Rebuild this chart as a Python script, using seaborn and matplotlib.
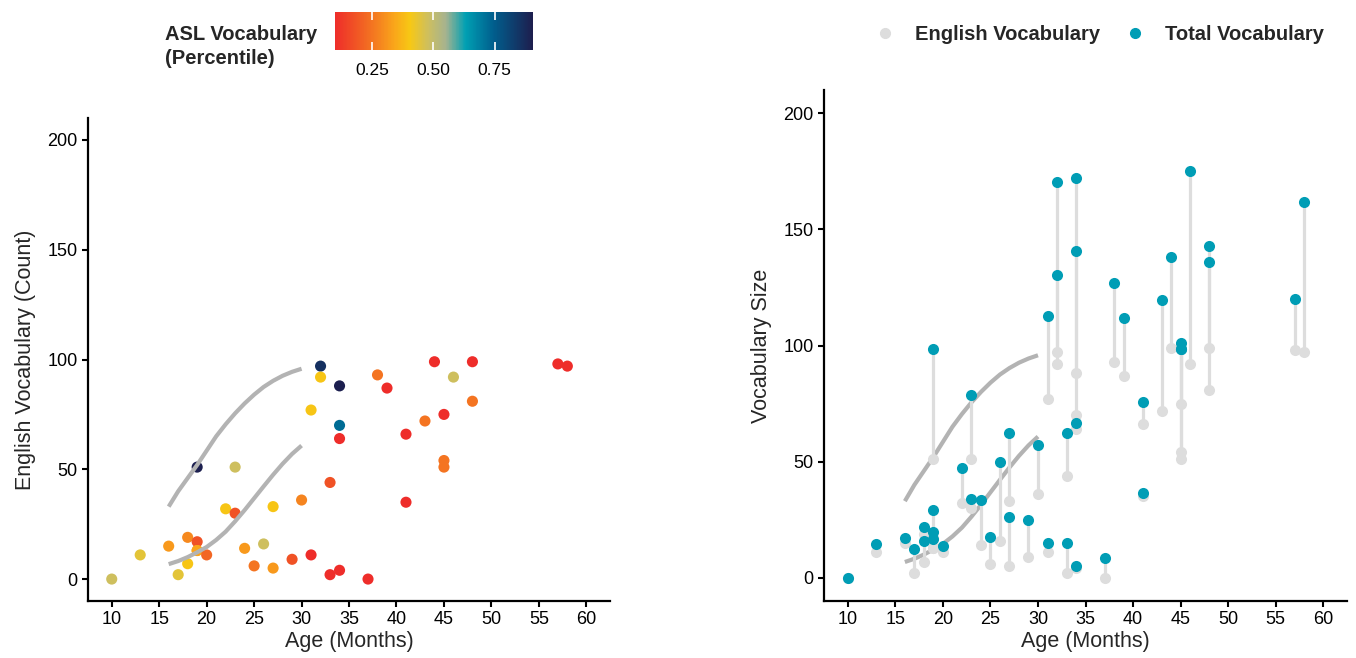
import numpy as np
import pandas as pd
import matplotlib
matplotlib.use("Agg")
import matplotlib.pyplot as plt
from matplotlib.colors import LinearSegmentedColormap, Normalize
from matplotlib.cm import ScalarMappable
from matplotlib.lines import Line2D
import seaborn as sns

# one entry per child
AGE = [10, 13, 16, 17, 18, 18, 19, 19, 19, 19, 20, 22, 23, 23, 24, 25, 26, 27, 27, 29,
       30, 31, 31, 32, 32, 33, 33, 34, 34, 34, 34, 37, 38, 39, 41, 41, 43, 44, 45, 45,
       45, 46, 48, 48, 57, 58]
ENGLISH = [0, 11, 15, 2, 19, 7, 51, 17, 13, 13, 11, 32, 51, 30, 14, 6, 16, 33, 5, 9,
           36, 77, 11, 97, 92, 44, 2, 88, 70, 64, 4, 0, 93, 87, 66, 35, 72, 99, 75, 54,
           51, 92, 99, 81, 98, 97]
TOTAL = [0, 14.4, 17.2, 12.4, 22, 15.9, 98.5, 29.4, 19.7, 16.9, 13.8, 47.2, 78.6, 33.8,
         33.4, 17.7, 49.7, 62.5, 26, 24.8, 57.3, 112.9, 14.8, 170.3, 130.3, 62.5, 15,
         172, 140.9, 66.5, 5.2, 8.5, 126.7, 112, 75.5, 36.7, 119.4, 138.3, 101.1, 98.3,
         98.5, 175.3, 142.9, 135.9, 119.9, 161.6]
ASL_PCT = [0.48, 0.44, 0.32, 0.44, 0.29, 0.40, 0.90, 0.18, 0.34, 0.34, 0.22, 0.40, 0.48,
           0.18, 0.32, 0.25, 0.48, 0.40, 0.32, 0.18, 0.28, 0.40, 0.10, 0.86, 0.40, 0.18,
           0.10, 0.90, 0.72, 0.10, 0.10, 0.10, 0.25, 0.10, 0.10, 0.10, 0.25, 0.10, 0.10,
           0.25, 0.25, 0.48, 0.10, 0.25, 0.10, 0.10]

# reference norm curves
CURVE_AGE = [16, 17, 18, 19, 20, 21, 22, 23, 24, 25, 26, 27, 28, 29, 30]
CURVE_UPPER = [33, 40, 46, 52, 58.5, 65, 70.5, 75.5, 80, 84, 87.5, 90.3, 92.6, 94.4, 95.8]
CURVE_LOWER = [6.8, 8.2, 10, 12.2, 14.6, 17.8, 21.6, 26.3, 31.4, 36.8, 42.2, 47.5, 52.5,
               57, 60.8]

ASL_COLORS = ["#EE2D2A", "#F15A24", "#F5821F", "#FAA61A", "#F7C815", "#CEBF5E",
              "#A6B38F", "#00A0B3", "#005F8E", "#1D1E4E"]
ASL_STOPS = [0.0, 0.12, 0.22, 0.30, 0.38, 0.47, 0.56, 0.66, 0.80, 1.0]

TEAL = "#009DB5"
LIGHT = "#DDDDDD"
CURVE = "#B3B3B3"

sns.set_theme(style="ticks")
plt.rcParams["font.family"] = ["Liberation Sans", "DejaVu Sans"]

df = pd.DataFrame({"age": AGE, "english": ENGLISH, "total": TOTAL, "asl": ASL_PCT})
curves = pd.DataFrame({"age": CURVE_AGE, "upper": CURVE_UPPER, "lower": CURVE_LOWER})

cmap = LinearSegmentedColormap.from_list("asl", list(zip(ASL_STOPS, ASL_COLORS)))
norm = Normalize(vmin=0.1, vmax=0.905)

fig = plt.figure(figsize=(13.56, 6.58), dpi=100)
ax1 = fig.add_axes([0.0649, 0.0866, 0.385, 0.734])
ax2 = fig.add_axes([0.6077, 0.0866, 0.3857, 0.7766])

# ── Left: English vocabulary coloured by ASL percentile ──
sns.scatterplot(data=df, x="age", y="english", hue="asl", palette=cmap, hue_norm=norm,
                s=64, linewidth=0, legend=False, ax=ax1, zorder=2)
for col in ["upper", "lower"]:
    sns.lineplot(data=curves, x="age", y=col, color=CURVE, lw=3, ax=ax1, zorder=3,
                 solid_joinstyle="round", solid_capstyle="butt")
ax1.set_ylabel("English Vocabulary (Count)", labelpad=8)

# ── Right: English vs total vocabulary ──
for col in ["upper", "lower"]:
    sns.lineplot(data=curves, x="age", y=col, color=CURVE, lw=3, ax=ax2, zorder=1,
                 solid_joinstyle="round", solid_capstyle="butt")
ax2.vlines(df["age"], df["english"], df["total"], color=LIGHT, lw=2.3, zorder=2)
sns.scatterplot(data=df, x="age", y="english", color=LIGHT, s=64, linewidth=0, ax=ax2, zorder=3)
sns.scatterplot(data=df, x="age", y="total", color=TEAL, s=64, linewidth=0, ax=ax2, zorder=4)
ax2.set_ylabel("Vocabulary Size", labelpad=8)

for ax in (ax1, ax2):
    ax.set_xlim(7.5, 62.5)
    ax.set_ylim(-10, 210)
    ax.set_xticks(range(10, 61, 5))
    ax.set_yticks(range(0, 201, 50))
    ax.set_xlabel("Age (Months)", fontsize=15.5, labelpad=2)
    ax.yaxis.label.set_size(15.5)
    ax.tick_params(labelsize=13, length=4, width=1.5, color="black", labelcolor="black")
    for sp in ("left", "bottom"):
        ax.spines[sp].set_linewidth(1.6)
        ax.spines[sp].set_color("black")
    sns.despine(ax=ax)

# colourbar
cax = fig.add_axes([0.247, 0.924, 0.146, 0.0578])
cb = fig.colorbar(ScalarMappable(norm=norm, cmap=cmap), cax=cax, orientation="horizontal",
                  ticks=[0.25, 0.5, 0.75])
cb.outline.set_visible(False)
cb.solids.set_zorder(0)
cb.ax.set_axisbelow(False)
cb.ax.set_xticklabels(["0.25", "0.50", "0.75"])
cb.ax.tick_params(direction="in", color="white", length=6, width=1.2, top=True, bottom=True,
                  labelsize=12.5, labelcolor="black", pad=9)
fig.text(0.1217, 0.929, "ASL Vocabulary\n(Percentile)", fontsize=14.5, fontweight="bold",
         ha="left", va="center", linespacing=1.3)

# legend
handles = [Line2D([], [], marker="o", ls="", color=LIGHT, markersize=7),
           Line2D([], [], marker="o", ls="", color=TEAL, markersize=7)]
fig.legend(handles, ["English Vocabulary", "Total Vocabulary"], ncol=2, frameon=False,
           loc="center", bbox_to_anchor=(0.810, 0.948), prop={"weight": "bold", "size": 14.5},
           handletextpad=0.9, columnspacing=1.1, handlelength=1.2)

fig.savefig("out.png", dpi=100)
